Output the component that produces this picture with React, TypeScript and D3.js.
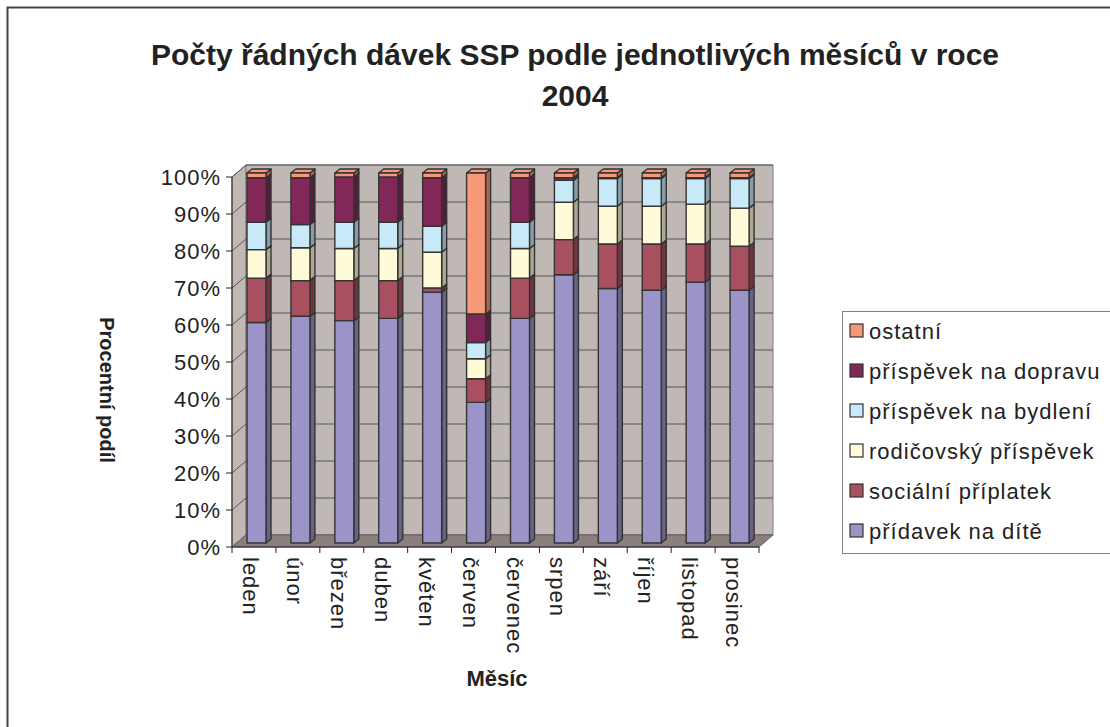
import * as d3 from 'd3';

const months = ['leden', 'únor', 'březen', 'duben', 'květen', 'červen', 'červenec', 'srpen', 'září', 'říjen', 'listopad', 'prosinec'];

// podíly v % (zdola nahoru)
const pridavek = [59.6, 61.3, 60.1, 60.7, 67.8, 38.0, 60.7, 72.5, 68.8, 68.3, 70.5, 68.3];
const socialni = [12.0, 9.6, 10.8, 10.2, 1.1, 6.4, 10.9, 9.5, 12.0, 12.5, 10.3, 11.9];
const rodicovsky = [7.7, 8.9, 8.7, 8.7, 9.7, 5.4, 8.0, 10.1, 10.2, 10.2, 10.8, 10.3];
const bydleni = [7.4, 6.3, 7.1, 7.1, 7.0, 4.4, 7.1, 5.9, 7.5, 7.5, 6.9, 8.0];
const doprava = [12.0, 12.6, 12.2, 12.2, 13.1, 7.7, 12.0, 0.7, 0.2, 0.2, 0.2, 0.2];
const ostatni = [1.3, 1.3, 1.1, 1.1, 1.3, 38.1, 1.3, 1.3, 1.3, 1.3, 1.3, 1.3];

const seriesNames = ['přídavek na dítě', 'sociální příplatek', 'rodičovský příspěvek', 'příspěvek na bydlení', 'příspěvek na dopravu', 'ostatní'];
const seriesValues = [pridavek, socialni, rodicovsky, bydleni, doprava, ostatni];
const fills = ['#9c94c8', '#a84f60', '#fffad8', '#c8eaf8', '#822858', '#f7987a'];
const yTicks = [0, 0.1, 0.2, 0.3, 0.4, 0.5, 0.6, 0.7, 0.8, 0.9, 1];

const FONT = '"Liberation Sans", Arial, sans-serif';

export default function App() {
  const W = 1110;
  const H = 727;
  const left = 232;
  const right = 759;
  const top = 177;
  const bottom = 547;
  const dx = 14;
  const dy = -12;

  const x = d3.scaleBand().domain(months).range([left, right]);
  const y = d3.scaleLinear().domain([0, 1]).range([bottom, top]);

  const rows = months.map((m, i) => {
    const r: any = { month: m };
    seriesNames.forEach((s, j) => (r[s] = seriesValues[j][i]));
    return r;
  });
  const stacked = d3.stack().keys(seriesNames).offset(d3.stackOffsetExpand)(rows);

  const barW = 19;
  const bdy = dy / 3;
  const sx = 5;
  const sy = -4;

  const bars: any[] = [];
  months.forEach((m, i) => {
    const bx = (x(m) as number) + 15;
    stacked.forEach((layer, j) => {
      const [v0, v1] = layer[i];
      if (v1 - v0 <= 0) return;
      const yb = y(v0) + bdy;
      const yt = y(v1) + bdy;
      const side = d3.color(fills[j])!.darker(1.1).formatHex();
      bars.push(
        <g key={`${m}-${j}`} stroke="#333" strokeWidth={1.4} strokeLinejoin="round">
          <path d={`M${bx + barW},${yb}L${bx + barW + sx},${yb + sy}L${bx + barW + sx},${yt + sy}L${bx + barW},${yt}Z`} fill={side} />
          <path d={`M${bx},${yt}L${bx + sx},${yt + sy}L${bx + barW + sx},${yt + sy}L${bx + barW},${yt}Z`} fill={fills[j]} />
          <rect x={bx} y={yt} width={barW} height={yb - yt} fill={fills[j]} />
        </g>
      );
    });
  });

  const legendY = 331;
  const legendStep = 40;
  const legendOrder = [...seriesNames.keys()].reverse();

  return (
    <div style={{ position: 'absolute', left: 0, top: 0 }}>
      <svg width={W} height={H} style={{ display: 'block', fontFamily: FONT }}>
        <rect x={0} y={0} width={W} height={H} fill="#fff" />
        <rect x={7.5} y={7.5} width={W} height={H} fill="none" stroke="#444" strokeWidth={2} />

        <text x={575} y={65} textAnchor="middle" fontSize={30} fontWeight="bold" fill="#222">
          Počty řádných dávek SSP podle jednotlivých měsíců v roce
        </text>
        <text x={575} y={106} textAnchor="middle" fontSize={30} fontWeight="bold" fill="#222">
          2004
        </text>

        {/* stěny */}
        <path d={`M${left},${bottom}L${left},${top}L${left + dx},${top + dy}L${left + dx},${bottom + dy}Z`} fill="#c0b8b5" stroke="#808080" />
        <rect x={left + dx} y={top + dy} width={right - left} height={bottom - top} fill="#c0b8b5" stroke="#808080" />
        {yTicks.map((t) => (
          <g key={t} stroke="#555" strokeWidth={1}>
            <line x1={left + dx} x2={right + dx} y1={y(t) + dy} y2={y(t) + dy} />
            <line x1={left} x2={left + dx} y1={y(t)} y2={y(t) + dy} />
          </g>
        ))}
        <path d={`M${left},${bottom}L${right},${bottom}L${right + dx},${bottom + dy}L${left + dx},${bottom + dy}Z`} fill="#8c807e" stroke="#6a6060" />

        {bars}

        {/* osy */}
        <line x1={left} x2={left} y1={top} y2={bottom} stroke="#222" />
        {yTicks.map((t) => (
          <g key={t}>
            <line x1={left - 6} x2={left} y1={y(t)} y2={y(t)} stroke="#222" />
            <text x={221} y={y(t)} dy="0.36em" textAnchor="end" fontSize={22} letterSpacing={1} fill="#222">
              {d3.format('.0%')(t)}
            </text>
          </g>
        ))}
        <line x1={left} x2={right} y1={bottom} y2={bottom} stroke="#222" />
        {[...months, null].map((m, i) => {
          const tx = m ? (x(m) as number) : right;
          return <line key={i} x1={tx} x2={tx} y1={bottom} y2={bottom + 6} stroke="#222" />;
        })}
        {months.map((m) => {
          const cx = (x(m) as number) + x.bandwidth() / 2;
          return (
            <text key={m} transform={`translate(${cx - 3},557) rotate(90)`} dy="0.36em" fontSize={22} letterSpacing={1} fill="#222">
              {m}
            </text>
          );
        })}

        <text x={497} y={686} textAnchor="middle" fontSize={22} fontWeight="bold" fill="#222">
          Měsíc
        </text>
        <text transform="translate(107,390) rotate(90)" dy="0.36em" textAnchor="middle" fontSize={20} fontWeight="bold" fill="#222">
          Procentní podíl
        </text>

        {/* legenda */}
        <rect x={842.5} y={311.5} width={300} height={242} fill="#fff" stroke="#808080" />
        {legendOrder.map((j, k) => (
          <g key={j} transform={`translate(850,${legendY + k * legendStep})`}>
            <rect x={0} y={-7} width={13} height={13} fill={fills[j]} stroke="#333" strokeWidth={1.2} />
            <text x={19} y={0} dy="0.36em" fontSize={22} letterSpacing={1} fill="#222">
              {seriesNames[j]}
            </text>
          </g>
        ))}
      </svg>
    </div>
  );
}
